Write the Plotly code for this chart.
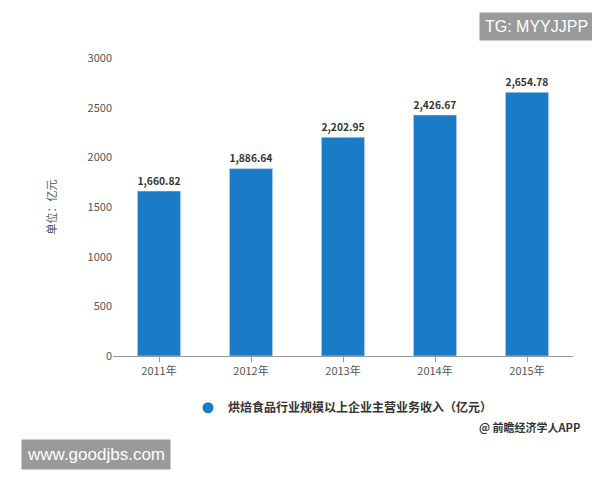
import plotly.graph_objects as go

years = ["2011年", "2012年", "2013年", "2014年", "2015年"]
values = [1660.82, 1886.64, 2202.95, 2426.67, 2654.78]
labels = ["1,660.82", "1,886.64", "2,202.95", "2,426.67", "2,654.78"]
series_name = "烘焙食品行业规模以上企业主营业务收入（亿元）"

fig = go.Figure()
fig.add_trace(go.Bar(x=years, y=values, text=labels, textposition="outside",
                     texttemplate="<b>%{text}</b>",
                     textfont=dict(size=13, color="#333", family="Noto Sans CJK SC"),
                     marker_color="#1a7cc6", width=0.47, cliponaxis=False, showlegend=False))
fig.add_trace(go.Scatter(x=[None], y=[None], mode="markers", name="<b>" + series_name + "</b>",
                         marker=dict(symbol="circle", size=11, color="#1a7cc6")))
fig.update_layout(
    width=600, height=480, margin=dict(l=105, r=35, t=50, b=132),
    paper_bgcolor="white", plot_bgcolor="white",
    font=dict(family="Noto Sans CJK SC", size=11, color="#555"),
    yaxis=dict(range=[0, 3000], dtick=500, showgrid=False, showline=False,
               ticks="", title=dict(text="单位：亿元", font=dict(size=11, color="#555"), standoff=28)),
    xaxis=dict(showline=True, linecolor="#999", ticks="outside", tickcolor="#999"),
    legend=dict(orientation="h", x=0.5, xanchor="center", y=-0.125, yanchor="top",
                font=dict(size=12, color="#333")),
)
fig.add_annotation(text="TG: MYYJJPP", xref="paper", yref="paper", x=1.045, y=1.155,
                   xanchor="right", yanchor="top", showarrow=False,
                   font=dict(size=16, color="white", family="Liberation Sans"),
                   bgcolor="#9a9a9a", borderpad=5)
fig.add_annotation(text="www.goodjbs.com", xref="paper", yref="paper", x=-0.2, y=-0.28,
                   xanchor="left", yanchor="top", showarrow=False,
                   font=dict(size=17, color="white", family="Liberation Sans"),
                   bgcolor="#9a9a9a", borderpad=5)
fig.add_annotation(text="<b>@ 前瞻经济学人APP</b>", xref="paper", yref="paper", x=1.02, y=-0.205,
                   xanchor="right", yanchor="top", showarrow=False,
                   font=dict(size=11, color="#333"))
fig.write_html("out.html")
